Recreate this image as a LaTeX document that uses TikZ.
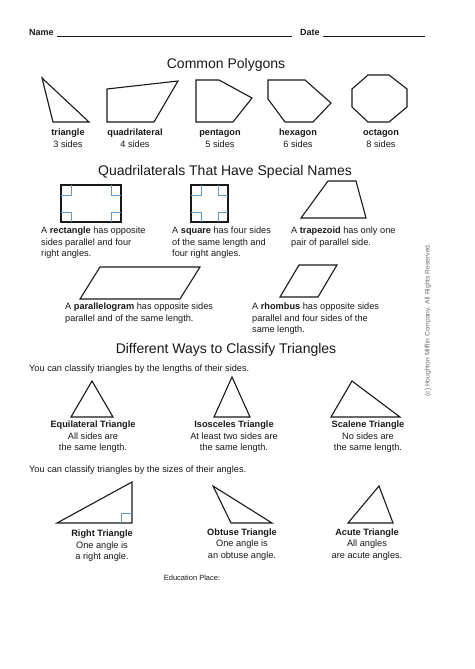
\documentclass[tikz,border=0pt]{standalone}
\usepackage{fontspec}
\setmainfont{Liberation Sans}
\usepackage{tikz}
\usetikzlibrary{positioning}
\definecolor{ink}{RGB}{25,25,25}
\definecolor{RA}{RGB}{95,155,200}
\definecolor{CP}{RGB}{110,110,110}

\begin{document}
\begin{tikzpicture}[x=1pt, y=-1pt,
  shp/.style={draw=ink, line width=1.1pt, line join=miter},
  rtm/.style={draw=RA, line width=0.7pt},
  ttl/.style={font=\fontsize{14}{16}\selectfont, text=ink, inner sep=0pt, anchor=base},
  lbl/.style={font=\fontsize{9.2}{11.5}\selectfont, text=ink, inner sep=0pt, align=center, anchor=base},
  txt/.style={font=\fontsize{9.2}{11.5}\selectfont, text=ink, inner sep=0pt, align=left, anchor=base west}
]
\useasboundingbox[fill=white] (0,0) rectangle (474,669);

% header
\node[txt, font=\fontsize{9}{11}\selectfont\bfseries] (name) at (29,35.5) {Name};
\node[txt, font=\fontsize{9}{11}\selectfont\bfseries] (date) at (300,35.5) {Date};
\draw[ink, line width=0.7pt] (57,36.5) -- (292,36.5);
\draw[ink, line width=0.7pt] (323,36.5) -- (425,36.5);

% common polygons
\node[ttl] (polyttl) at (226,69) {Common Polygons};
\draw[shp] (42,78) -- (53,122) -- (89,122) -- cycle;
\draw[shp] (107,89) -- (178,81) -- (154,122) -- (107,122) -- cycle;
\draw[shp] (196,80) -- (219,80) -- (252,98) -- (233,122) -- (196,122) -- cycle;
\draw[shp] (268,80) -- (305,80) -- (331,103) -- (313,122) -- (285,122) -- (268,99) -- cycle;
\draw[shp] (368,75) -- (389,75) -- (407,89) -- (407,107) -- (389,122) -- (368,122)
  -- (352,107) -- (352,89) -- cycle;
\node[lbl] (trilbl)  at (68,147)  {\textbf{triangle}\\3 sides};
\node[lbl] (quadlbl) at (135,147) {\textbf{quadrilateral}\\4 sides};
\node[lbl] (pentlbl) at (220,147) {\textbf{pentagon}\\5 sides};
\node[lbl] (hexlbl)  at (298,147) {\textbf{hexagon}\\6 sides};
\node[lbl] (octlbl)  at (381,147) {\textbf{octagon}\\8 sides};

% special quadrilaterals
\node[ttl] (quadttl) at (225,175) {Quadrilaterals That Have Special Names};
\draw[shp] (61,185) rectangle (121,222);
\draw[rtm] (61,195) -- (71,195) -- (71,185)  (111,185) -- (111,195) -- (121,195)
  (61,212) -- (71,212) -- (71,222)  (111,222) -- (111,212) -- (121,212);
\draw[shp] (191,185) rectangle (228,222);
\draw[rtm] (191,195) -- (201,195) -- (201,185)  (218,185) -- (218,195) -- (228,195)
  (191,212) -- (201,212) -- (201,222)  (218,222) -- (218,212) -- (228,212);
\draw[shp] (301,218) -- (328,181) -- (356,181) -- (366,218) -- cycle;
\node[txt] (recttxt) at (41,256.5)  {A \textbf{rectangle} has opposite\\sides parallel and four\\right angles.};
\node[txt] (sqtxt)   at (172,256.5) {A \textbf{square} has four sides\\of the same length and\\four right angles.};
\node[txt] (traptxt) at (291,245)   {A \textbf{trapezoid} has only one\\pair of parallel side.};
\draw[shp] (80,299) -- (100,267) -- (200,267) -- (180,299) -- cycle;
\draw[shp] (280,297) -- (299,265) -- (337,265) -- (318,297) -- cycle;
\node[txt] (paratxt) at (65,321)    {A \textbf{parallelogram} has opposite sides\\parallel and of the same length.};
\node[txt] (rhomtxt) at (252,332.5) {A \textbf{rhombus} has opposite sides\\parallel and four sides of the\\same length.};

% classify triangles
\node[ttl] (triangttl) at (226,353.5) {Different Ways to Classify Triangles};
\node[txt] (sidestxt) at (29,371.5) {You can classify triangles by the lengths of their sides.};
\draw[shp] (71,417) -- (92,381) -- (113,417) -- cycle;
\draw[shp] (214,417) -- (232,377) -- (250,417) -- cycle;
\draw[shp] (331,417) -- (352,381) -- (400,417) -- cycle;
\node[lbl] (equilbl) at (93,450.5)  {\textbf{Equilateral Triangle}\\All sides are\\the same length.};
\node[lbl] (isolbl)  at (234,450.5) {\textbf{Isosceles Triangle}\\At least two sides are\\the same length.};
\node[lbl] (scallbl) at (368,450.5) {\textbf{Scalene Triangle}\\No sides are\\the same length.};
\node[txt] (anglestxt) at (29,472.5) {You can classify triangles by the sizes of their angles.};
\draw[shp] (57,523) -- (132,482) -- (132,523) -- cycle;
\draw[rtm] (121.5,523) -- (121.5,513) -- (132,513);
\draw[shp] (213,486) -- (231,523) -- (272,523) -- cycle;
\draw[shp] (348,523) -- (379,486) -- (393,523) -- cycle;
\node[lbl] (rightlbl) at (102,559.5) {\textbf{Right Triangle}\\One angle is\\a right angle.};
\node[lbl] (obtlbl)   at (242,558)   {\textbf{Obtuse Triangle}\\One angle is\\an obtuse angle.};
\node[lbl] (acutelbl) at (367,558)   {\textbf{Acute Triangle}\\All angles\\are acute angles.};

\node[lbl, font=\fontsize{7.5}{9}\selectfont] (edu) at (192,580.5) {Education Place:};
\node[inner sep=0pt, rotate=90, text=CP, font=\fontsize{6.7}{8}\selectfont] (copy) at (428,320)
  {(c) Houghton Mifflin Company. All Rights Reserved.};
\end{tikzpicture}
\end{document}
